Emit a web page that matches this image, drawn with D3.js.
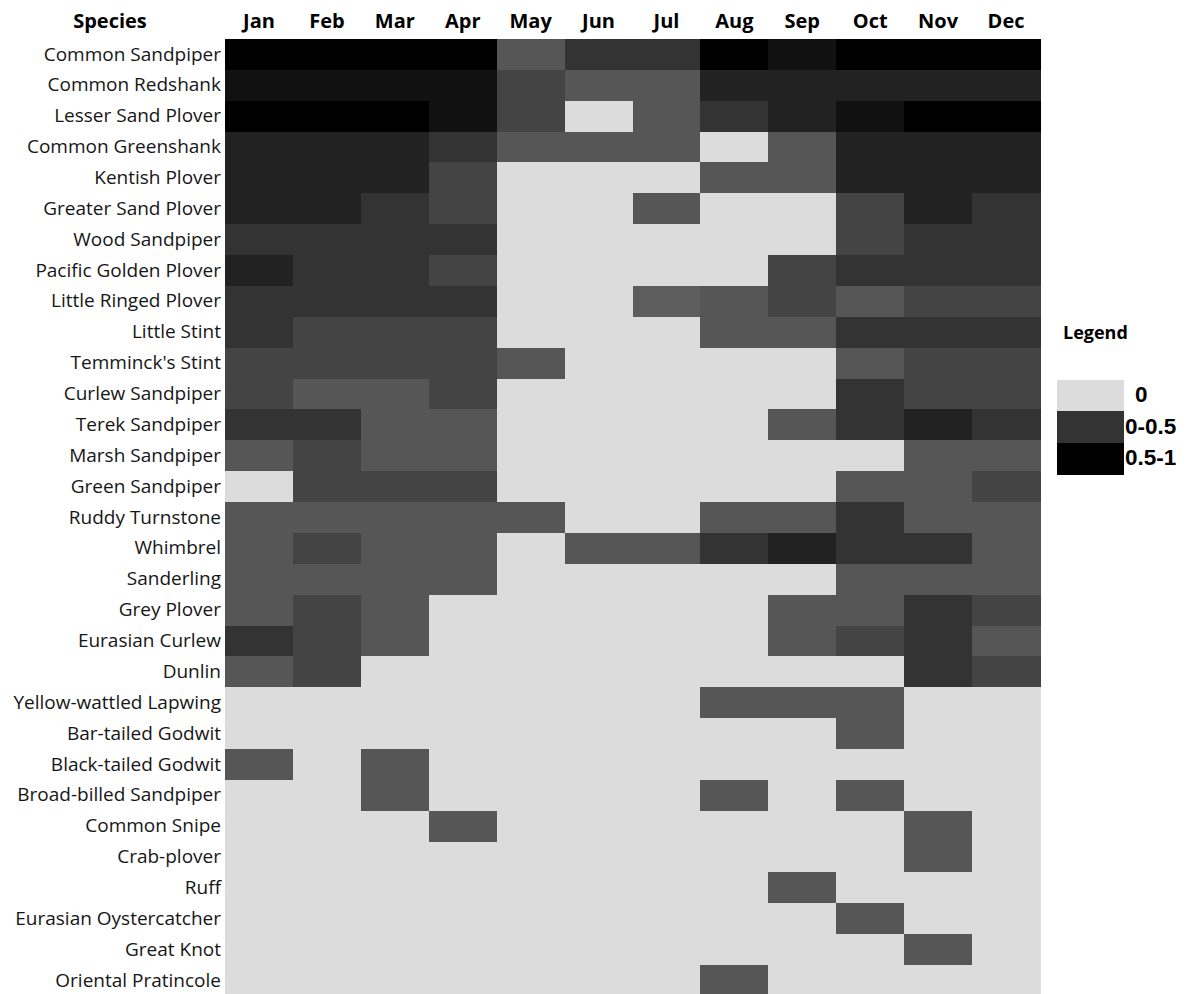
<!DOCTYPE html>
<html>
<head>
<meta charset="utf-8">
<script src="https://cdn.jsdelivr.net/npm/d3@7"></script>
<style>
  html, body { margin: 0; padding: 0; background: #fff; }
  svg { display: block; }
</style>
</head>
<body>
<svg id="chart" width="1196" height="994"></svg>
<script>
// Shorebird monthly occurrence, one row per species
const months = ["Jan","Feb","Mar","Apr","May","Jun","Jul","Aug","Sep","Oct","Nov","Dec"];

const species = [
  "Common Sandpiper","Common Redshank","Lesser Sand Plover","Common Greenshank",
  "Kentish Plover","Greater Sand Plover","Wood Sandpiper","Pacific Golden Plover",
  "Little Ringed Plover","Little Stint","Temminck's Stint","Curlew Sandpiper",
  "Terek Sandpiper","Marsh Sandpiper","Green Sandpiper","Ruddy Turnstone",
  "Whimbrel","Sanderling","Grey Plover","Eurasian Curlew","Dunlin",
  "Yellow-wattled Lapwing","Bar-tailed Godwit","Black-tailed Godwit",
  "Broad-billed Sandpiper","Common Snipe","Crab-plover","Ruff",
  "Eurasian Oystercatcher","Great Knot","Oriental Pratincole"
];

// Occurrence value per species (rows) and month (columns)
const values = [
  [1.00,1.00,1.00,1.00,0.10,0.46,0.46,1.00,0.82,1.00,1.00,1.00],
  [0.82,0.82,0.82,0.82,0.28,0.10,0.10,0.64,0.64,0.64,0.64,0.64],
  [1.00,1.00,1.00,0.82,0.28,0,0.10,0.46,0.64,0.82,1.00,1.00],
  [0.64,0.64,0.64,0.46,0.10,0.10,0.10,0,0.10,0.64,0.64,0.64],
  [0.64,0.64,0.64,0.28,0,0,0,0.10,0.10,0.64,0.64,0.64],
  [0.64,0.64,0.46,0.28,0,0,0.10,0,0,0.28,0.64,0.46],
  [0.46,0.46,0.46,0.46,0,0,0,0,0,0.28,0.46,0.46],
  [0.64,0.46,0.46,0.28,0,0,0,0,0.28,0.46,0.46,0.46],
  [0.46,0.46,0.46,0.46,0,0,0.02,0.10,0.28,0.10,0.28,0.28],
  [0.46,0.28,0.28,0.28,0,0,0,0.10,0.10,0.46,0.46,0.46],
  [0.28,0.28,0.28,0.28,0.10,0,0,0,0,0.10,0.28,0.28],
  [0.28,0.10,0.10,0.28,0,0,0,0,0,0.46,0.28,0.28],
  [0.46,0.46,0.10,0.10,0,0,0,0,0.10,0.46,0.64,0.46],
  [0.10,0.28,0.10,0.10,0,0,0,0,0,0,0.10,0.10],
  [0,0.28,0.28,0.28,0,0,0,0,0,0.10,0.10,0.28],
  [0.10,0.10,0.10,0.10,0.10,0,0,0.10,0.10,0.46,0.10,0.10],
  [0.10,0.28,0.10,0.10,0,0.10,0.10,0.46,0.64,0.46,0.46,0.10],
  [0.10,0.10,0.10,0.10,0,0,0,0,0,0.10,0.10,0.10],
  [0.10,0.28,0.10,0,0,0,0,0,0.10,0.10,0.46,0.28],
  [0.46,0.28,0.10,0,0,0,0,0,0.10,0.28,0.46,0.10],
  [0.10,0.28,0,0,0,0,0,0,0,0,0.46,0.28],
  [0,0,0,0,0,0,0,0.10,0.10,0.10,0,0],
  [0,0,0,0,0,0,0,0,0,0.10,0,0],
  [0.10,0,0.10,0,0,0,0,0,0,0,0,0],
  [0,0,0.10,0,0,0,0,0.10,0,0.10,0,0],
  [0,0,0,0.10,0,0,0,0,0,0,0.10,0],
  [0,0,0,0,0,0,0,0,0,0,0.10,0],
  [0,0,0,0,0,0,0,0,0.10,0,0,0],
  [0,0,0,0,0,0,0,0,0,0.10,0,0],
  [0,0,0,0,0,0,0,0,0,0,0.10,0],
  [0,0,0,0,0,0,0,0.10,0,0,0,0]
];

const legendLabels = ["0","0-0.5","0.5-1"];
const legendValues = [0, 0.46, 1];

const svg = d3.select("#chart");

const grid = { left: 225, top: 39, width: 815, rowH: 30.87 };

const x = d3.scaleBand().domain(months).range([grid.left, grid.left + grid.width]);
const y = d3.scaleBand().domain(species)
  .range([grid.top, grid.top + grid.rowH * species.length]);

const shade = d3.scaleLinear().domain([0, 1]).range(["#5f5f5f", "#000000"])
  .interpolate(d3.interpolateRgb);
const fill = v => v === 0 ? "#dcdcdc" : shade(v);

const cells = [];
species.forEach((s, i) => months.forEach((m, j) => cells.push({ s, m, v: values[i][j] })));

svg.append("g").selectAll("rect").data(cells).join("rect")
  .attr("x", d => x(d.m))
  .attr("y", d => y(d.s))
  .attr("width", x.bandwidth() + 0.5)
  .attr("height", y.bandwidth() + 0.5)
  .attr("fill", d => fill(d.v))
  .attr("shape-rendering", "crispEdges");

// Row labels
const labelFont = "'Open Sans', 'Noto Sans', sans-serif";
const yAxis = d3.axisLeft(y).tickSize(0).tickPadding(4);
const ya = svg.append("g").attr("transform", `translate(${grid.left},0)`).call(yAxis);
ya.select(".domain").remove();
ya.selectAll("text")
  .attr("font-family", labelFont)
  .attr("font-size", 19)
  .attr("fill", "#161616");

// Month header
const xAxis = d3.axisTop(x).tickSize(0).tickPadding(0);
const xa = svg.append("g").attr("transform", `translate(0,28)`).call(xAxis);
xa.select(".domain").remove();
xa.selectAll("text")
  .attr("font-family", labelFont)
  .attr("font-weight", "bold")
  .attr("font-size", 20)
  .attr("fill", "#000")
  .attr("dy", 0);

svg.append("text")
  .attr("x", 110).attr("y", 28)
  .attr("text-anchor", "middle")
  .attr("font-family", labelFont)
  .attr("font-weight", "bold")
  .attr("font-size", 20)
  .text("Species");

// Legend
const lg = svg.append("g");
lg.append("text")
  .attr("x", 1063).attr("y", 339)
  .attr("font-family", labelFont)
  .attr("font-weight", "bold")
  .attr("font-size", 18)
  .text("Legend");

const ly = d3.scaleBand().domain(legendLabels).range([380, 474]);
lg.selectAll("rect").data(legendLabels).join("rect")
  .attr("x", 1057).attr("y", d => ly(d))
  .attr("width", 67).attr("height", ly.bandwidth() + 0.5)
  .attr("fill", (d, i) => i === 1 ? "#333333" : fill(legendValues[i]))
  .attr("shape-rendering", "crispEdges");

lg.selectAll("text.lab").data(legendLabels).join("text")
  .attr("class", "lab")
  .attr("x", (d, i) => i === 0 ? 1135 : 1125)
  .attr("y", d => ly(d) + ly.bandwidth() - 9)
  .attr("font-family", "'Liberation Sans', Arial, sans-serif")
  .attr("font-weight", "bold")
  .attr("font-size", 22.5)
  .text(d => d);
</script>
</body>
</html>
